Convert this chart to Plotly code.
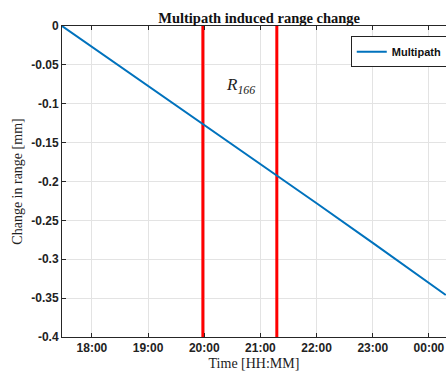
import plotly.graph_objects as go

# Data
times = ["2023-01-01 17:28", "2023-01-01 20:00", "2023-01-01 22:00",
         "2023-01-01 23:00", "2023-01-02 00:18"]
range_change = [0.0, -0.127, -0.228, -0.279, -0.346]

event_times = ["2023-01-01 19:58:30", "2023-01-01 21:17:30"]
event_span = [-0.4, 0.0]

tick_vals = ["2023-01-01 18:00", "2023-01-01 19:00", "2023-01-01 20:00",
             "2023-01-01 21:00", "2023-01-01 22:00", "2023-01-01 23:00",
             "2023-01-02 00:00"]
y_ticks = [0, -0.05, -0.1, -0.15, -0.2, -0.25, -0.3, -0.35, -0.4]
y_tick_text = ["0", "-0.05", "-0.1", "-0.15", "-0.2", "-0.25", "-0.3", "-0.35", "-0.4"]

x_range = ["2023-01-01 17:28", "2023-01-02 00:18:15"]

serif = "Liberation Serif, Times New Roman, serif"
sans = "Liberation Sans, Arial, sans-serif"

fig = go.Figure()
for t in event_times:
    fig.add_trace(go.Scatter(x=[t, t], y=event_span, mode="lines",
                             line=dict(color="#ff0000", width=3),
                             showlegend=False, hoverinfo="skip"))
fig.add_trace(go.Scatter(x=times, y=range_change, mode="lines", name="Multipath",
                         line=dict(color="#0072BD", width=2)))

fig.add_annotation(x="2023-01-01 20:39", y=-0.077, xref="x", yref="y",
                   text="<i>R</i><sub><i>166</i></sub>", showarrow=False,
                   font=dict(family=serif, size=17, color="#222"))

fig.update_layout(
    width=446, height=374,
    margin=dict(l=62, r=0, t=26, b=37, autoexpand=False),
    paper_bgcolor="white", plot_bgcolor="white",
    title=dict(text="<b>Multipath induced range change</b>",
               x=0.581, xref="container", xanchor="center",
               y=1 - 18 / 374, yref="container", yanchor="middle",
               font=dict(family=serif, size=14.5, color="#111")),
    legend=dict(x=0.752, xanchor="left", y=0.967, yanchor="top",
                bgcolor="white", bordercolor="#222", borderwidth=1,
                itemwidth=30, font=dict(family=sans, size=11, color="#111",
                                        weight="bold")),
    xaxis=dict(type="date", range=x_range, tickvals=tick_vals, tickformat="%H:%M",
               showgrid=True, gridcolor="#e3e3e3", gridwidth=1,
               showline=True, linecolor="#262626", linewidth=1, mirror="ticks",
               ticks="inside", ticklen=4, tickcolor="#262626",
               tickfont=dict(family=sans, size=12, color="#222", weight="bold"),
               title=dict(text="Time [HH:MM]", standoff=3,
                          font=dict(family=serif, size=14, color="#222")),
               zeroline=False),
    yaxis=dict(range=[-0.4, 0], tickvals=y_ticks, ticktext=y_tick_text,
               showgrid=True, gridcolor="#e3e3e3", gridwidth=1,
               showline=True, linecolor="#262626", linewidth=1,
               ticks="inside", ticklen=4, tickcolor="#262626",
               tickfont=dict(family=sans, size=12, color="#222", weight="bold"),
               title=dict(text="Change in range [mm]", standoff=5,
                          font=dict(family=serif, size=14, color="#222")),
               zeroline=False),
)

fig.write_html("out.html")
